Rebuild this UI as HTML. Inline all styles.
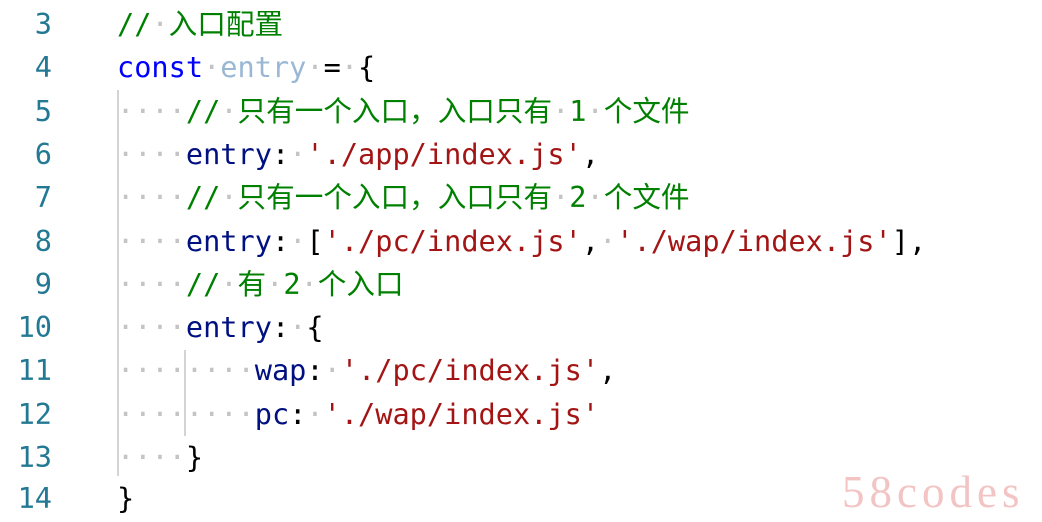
<!DOCTYPE html>
<html><head><meta charset="utf-8"><style>
html,body{margin:0;padding:0;background:#fff;width:1042px;height:522px;overflow:hidden;position:relative}
.l{position:absolute;left:0;height:43.3px;line-height:43.3px;font-family:"DejaVu Sans Mono","Liberation Mono","Noto Sans CJK SC",monospace;font-size:28.6px;white-space:pre}
.n{position:absolute;width:52px;text-align:right;color:#237893}
.c{position:absolute;left:117px}
.cm{color:#008000;font-family:"DejaVu Sans Mono","Noto Sans CJK SC",monospace}
.kw{color:#0000ff}.v{color:#9ab8d4}.p{color:#001080}.s{color:#a31515}.d{color:#c4c4c4}
.g{position:absolute;width:2px;background:#d4d4d4}
.wm{position:absolute;left:842px;top:466px;font-family:"Liberation Serif",serif;font-size:45px;color:#f3c4c4;letter-spacing:5px}
</style></head><body>
<div class="g" style="left:117px;top:90px;height:386px"></div>
<div class="g" style="left:184px;top:350px;height:86px"></div>
<div class="l" style="top:3px"><span class="n">3</span><span class="c"><span class="cm">//<span class="d">·</span>入口配置</span></span></div>
<div class="l" style="top:46.3px"><span class="n">4</span><span class="c"><span class="kw">const</span><span class="d">·</span><span class="v">entry</span><span class="d">·</span>=<span class="d">·</span>{</span></div>
<div class="l" style="top:89.6px"><span class="n">5</span><span class="c"><span class="d">····</span><span class="cm">//<span class="d">·</span>只有一个入口，入口只有<span class="d">·</span>1<span class="d">·</span>个文件</span></span></div>
<div class="l" style="top:132.9px"><span class="n">6</span><span class="c"><span class="d">····</span><span class="p">entry</span>:<span class="d">·</span><span class="s">'./app/index.js'</span>,</span></div>
<div class="l" style="top:176.2px"><span class="n">7</span><span class="c"><span class="d">····</span><span class="cm">//<span class="d">·</span>只有一个入口，入口只有<span class="d">·</span>2<span class="d">·</span>个文件</span></span></div>
<div class="l" style="top:219.5px"><span class="n">8</span><span class="c"><span class="d">····</span><span class="p">entry</span>:<span class="d">·</span>[<span class="s">'./pc/index.js'</span>,<span class="d">·</span><span class="s">'./wap/index.js'</span>],</span></div>
<div class="l" style="top:262.8px"><span class="n">9</span><span class="c"><span class="d">····</span><span class="cm">//<span class="d">·</span>有<span class="d">·</span>2<span class="d">·</span>个入口</span></span></div>
<div class="l" style="top:306.1px"><span class="n">10</span><span class="c"><span class="d">····</span><span class="p">entry</span>:<span class="d">·</span>{</span></div>
<div class="l" style="top:349.4px"><span class="n">11</span><span class="c"><span class="d">········</span><span class="p">wap</span>:<span class="d">·</span><span class="s">'./pc/index.js'</span>,</span></div>
<div class="l" style="top:392.7px"><span class="n">12</span><span class="c"><span class="d">········</span><span class="p">pc</span>:<span class="d">·</span><span class="s">'./wap/index.js'</span></span></div>
<div class="l" style="top:436px"><span class="n">13</span><span class="c"><span class="d">····</span>}</span></div>
<div class="l" style="top:477px"><span class="n">14</span><span class="c">}</span></div>
<div class="wm">58codes</div>
</body></html>
